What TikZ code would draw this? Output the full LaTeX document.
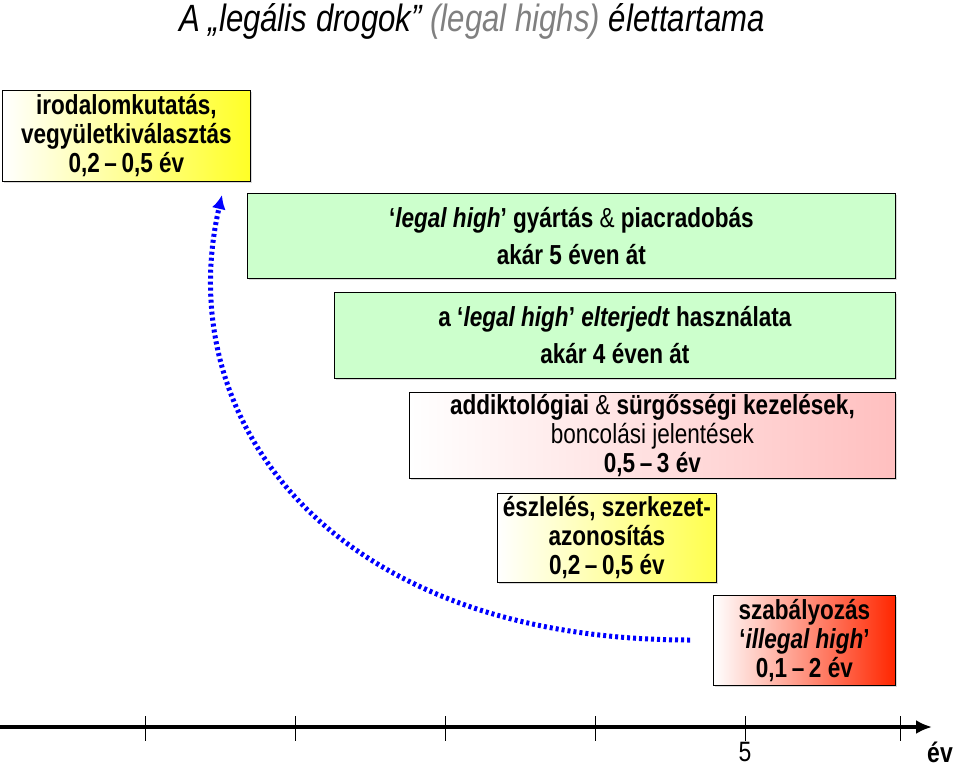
\documentclass[tikz,border=0pt]{standalone}
\usepackage{fontspec}
\setmainfont{Liberation Sans}
\newfontfamily\narrowfont[FakeStretch=0.82]{Liberation Sans}
\usetikzlibrary{shadows,arrows.meta}
\begin{document}
\begin{tikzpicture}[x=1pt,y=-1pt,
  box/.style={draw=black,line width=0.8pt,align=center,anchor=north west,inner sep=0pt,
    drop shadow={shadow xshift=2pt,shadow yshift=-2pt,opacity=0.3},font=\narrowfont\fontsize{27.5}{29}\selectfont\bfseries},
  tick/.style={line width=1pt}]
\useasboundingbox (0,0) rectangle (960,767);
\node[font=\narrowfont\fontsize{38}{42}\selectfont\itshape] (title) at (472,21) {A „legális drogok” \textcolor{gray}{(legal highs)} élettartama};
\node[box,minimum width=248pt,minimum height=91pt,left color=white,right color=yellow!85] (b1) at (2,90)
  {irodalomkutatás,\\vegyületkiválasztás\\0,2\,\textbf{–}\,0,5 év};
\node[box,minimum width=648pt,minimum height=85pt,fill=green!20!white] (b2) at (247,193)
  {‘\textit{legal high}’ gyártás \textmd{\&} piacradobás\\[8pt]akár 5 éven át};
\node[box,minimum width=561pt,minimum height=86pt,fill=green!20!white] (b3) at (334,292)
  {a ‘\textit{legal high}’ \textit{elterjedt} használata\\[8pt]akár 4 éven át};
\node[box,minimum width=486pt,minimum height=86pt,left color=white,right color=red!25] (b4) at (409,392)
  {addiktológiai \textmd{\&} sürgősségi kezelések,\\\textmd{boncolási jelentések}\\0,5\,–\,3 év};
\node[box,minimum width=219pt,minimum height=89pt,left color=white,right color=yellow!70] (b5) at (497,493)
  {észlelés, szerkezet-\\azonosítás\\0,2\,–\,0,5 év};
\node[box,minimum width=182pt,minimum height=90pt,left color=white,right color=red!70!orange] (b6) at (713,595)
  {szabályozás\\‘\textit{illegal high}’\\0,1\,–\,2 év};
\coordinate (s) at (690,640);
\coordinate (e) at (222,195);
\draw[blue,line width=5pt,dash pattern=on 3pt off 3pt,-{Latex[length=14pt,width=14pt]}] (s) .. controls (330,640) and (170,420) .. (e);
\coordinate (a0) at (0,727);
\coordinate (a1) at (932,727);
\draw[line width=4pt,-{Latex[length=16pt,width=14pt]}] (a0) -- (a1);
\foreach \x in {145,295,445,595,745,900} \draw[tick] (\x,716) -- (\x,741);
\node[font=\narrowfont\fontsize{28}{30}\selectfont] (five) at (745,752) {5};
\node[font=\narrowfont\fontsize{28}{30}\selectfont\bfseries] (ev) at (940,752) {év};
\end{tikzpicture}
\end{document}
